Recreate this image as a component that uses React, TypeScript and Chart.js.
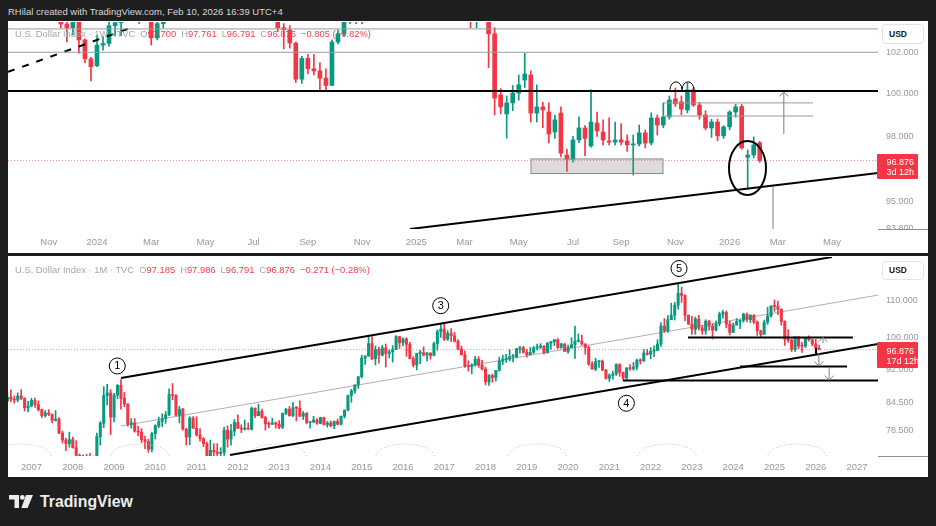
import React, { useEffect, useRef } from 'react';
import { Chart, registerables } from 'chart.js';

Chart.register(...registerables);

const FONT = "'Liberation Sans', Arial, Helvetica, sans-serif";
const UP = '#089981';
const DOWN = '#f23645';
const AXIS_TEXT = '#9598a1';

// ---------- Weekly candles (TVC:DXY 1W). Week index 0 = week of 1 Jan 2024; first bar = -14 ----------
const weekStart = -14;
const wOpen = [
  105.6, 106.2, 106.0, 106.6, 106.2, 105.6, 105.0, 105.9, 103.9, 103.38,
  103.2, 104.0, 102.6, 101.68, 101.35, 102.35, 102.43, 103.3, 103.45, 104.0,
  104.1, 104.3, 103.9, 103.85, 102.7, 103.4, 104.4, 104.5, 104.3, 106.0,
  106.1, 105.9, 105.1, 105.3, 104.5, 104.7, 104.6, 104.9, 105.6, 105.8,
  105.9, 104.9, 104.1, 104.4, 104.3, 103.2, 103.1, 102.45, 100.7, 101.7,
  101.2, 101.1, 100.75, 100.4, 102.5, 102.9, 103.5, 104.3, 104.25, 104.9,
  106.7, 107.5, 105.7, 106.0, 107.0, 107.8, 108.0, 109.0, 109.7, 109.3,
  107.4, 108.4, 108.0, 106.7, 106.6, 107.6, 103.8, 103.7, 104.1, 104.0,
  102.9, 99.95, 99.05, 99.57, 100.04, 100.66, 100.9, 99.09, 99.38, 99.14,
  98.2, 99.09, 97.13, 96.94, 97.83, 98.39, 97.55, 98.62, 98.2, 97.78,
  97.73, 97.83, 97.78, 97.6, 97.64, 98.16, 97.69, 98.86, 98.53, 98.91,
  99.76, 99.62, 99.24, 100.19, 99.47, 99.0, 98.39, 98.67, 98.02, 98.44,
  99.14, 99.4, 97.03, 97.13, 97.7,
];
const wHigh = [
  106.8, 107.35, 106.6, 106.8, 106.9, 107.1, 106.0, 106.0, 104.0, 103.8,
  104.26, 104.2, 102.65, 101.75, 102.84, 102.76, 103.7, 103.8, 104.0, 104.6,
  104.97, 104.4, 104.2, 104.0, 103.5, 104.5, 104.7, 105.0, 106.1, 106.5,
  106.2, 106.5, 105.7, 105.5, 105.1, 105.0, 105.0, 105.9, 105.9, 106.1,
  106.0, 105.2, 104.4, 104.6, 104.8, 103.4, 103.3, 102.5, 101.8, 101.9,
  101.9, 101.5, 101.2, 102.6, 103.1, 103.9, 104.6, 104.6, 105.4, 107.07,
  108.07, 107.7, 106.7, 107.2, 108.5, 108.5, 109.5, 110.0, 110.2, 109.6,
  109.3, 109.9, 108.5, 107.2, 107.6, 107.7, 104.1, 104.1, 104.7, 104.2,
  103.2, 100.25, 99.9, 100.4, 100.9, 101.95, 101.1, 100.43, 99.6, 99.57,
  99.0, 99.38, 97.4, 98.0, 98.91, 98.5, 100.19, 99.14, 98.77, 98.86,
  98.67, 98.6, 98.06, 98.06, 98.53, 98.3, 99.1, 99.0, 99.57, 99.9,
  100.28, 99.9, 100.52, 100.3, 99.6, 99.2, 98.8, 98.8, 98.5, 99.2,
  99.5, 99.5, 97.36, 97.97, 97.761,
];
const wLow = [
  105.6, 105.8, 105.1, 105.9, 105.4, 104.8, 104.9, 103.9, 103.2, 102.5,
  102.85, 101.95, 101.48, 100.62, 101.3, 102.1, 102.3, 102.8, 102.8, 103.9,
  103.9, 103.4, 103.6, 102.35, 102.6, 103.2, 104.1, 103.9, 104.0, 105.5,
  105.4, 104.5, 104.9, 104.1, 104.3, 104.4, 103.9, 104.3, 104.9, 105.3,
  104.8, 104.0, 103.65, 104.1, 103.0, 102.16, 102.2, 100.54, 100.5, 100.95,
  100.9, 100.2, 100.16, 100.4, 102.4, 102.8, 103.4, 103.4, 103.4, 104.9,
  106.1, 105.6, 105.6, 105.9, 106.5, 107.7, 107.9, 108.4, 108.7, 107.2,
  107.0, 107.3, 106.6, 106.1, 106.3, 103.7, 103.2, 103.2, 103.9, 101.26,
  99.0, 99.05, 97.92, 99.2, 99.7, 100.3, 98.67, 98.67, 98.4, 97.69,
  97.9, 97.04, 96.38, 96.8, 97.7, 97.1, 97.5, 98.0, 97.6, 97.6,
  97.6, 97.6, 97.3, 96.21, 97.55, 97.46, 97.6, 98.06, 98.4, 98.8,
  99.4, 99.0, 99.1, 99.4, 98.8, 98.3, 97.95, 97.8, 97.9, 98.3,
  98.9, 97.4, 95.55, 97.0, 96.791,
];
const wClose = [
  106.2, 106.0, 106.6, 106.2, 105.6, 105.0, 105.9, 103.9, 103.38, 103.2,
  104.0, 102.6, 101.68, 101.3, 102.35, 102.43, 103.3, 103.45, 104.0, 104.1,
  104.3, 103.9, 103.85, 102.7, 103.4, 104.4, 104.5, 104.3, 106.0, 106.1,
  105.9, 105.1, 105.3, 104.5, 104.7, 104.6, 104.9, 105.6, 105.8, 105.9,
  104.9, 104.1, 104.4, 104.3, 103.2, 103.1, 102.45, 100.7, 101.7, 101.2,
  101.1, 100.75, 100.4, 102.5, 102.9, 103.5, 104.3, 104.25, 104.9, 106.7,
  107.5, 105.7, 106.0, 107.0, 107.8, 108.0, 109.0, 109.7, 109.3, 107.4,
  108.4, 108.0, 106.7, 106.6, 107.6, 103.8, 103.7, 104.1, 104.0, 102.9,
  99.8, 99.38, 99.57, 100.04, 100.43, 100.95, 99.09, 99.38, 99.24, 98.11,
  98.77, 97.22, 96.94, 97.83, 98.39, 97.9, 98.67, 98.25, 97.83, 97.73,
  97.83, 97.73, 97.6, 97.64, 98.16, 97.69, 98.86, 98.53, 98.91, 99.71,
  99.52, 99.28, 100.19, 99.47, 99.0, 98.39, 98.67, 98.02, 98.44, 99.14,
  99.38, 97.46, 97.13, 97.6, 96.876,
];

// ---------- Monthly candles (TVC:DXY 1M). Month index 0 = Jan 2007; first bar = Jun 2006 (-7) ----------
const monthStart = -7;
const mOpen = [
  84.8, 85.6, 85.2, 85.0, 85.9, 85.3, 83.3,
  83.7, 84.9, 84.0, 82.9, 81.6, 82.2, 81.9, 80.6, 80.9, 78.0, 76.6, 75.9,
  76.7, 75.1, 73.6, 71.8, 73.4, 73.1, 72.4, 73.3, 77.3, 80.0, 86.0, 86.6,
  81.3, 86.1, 88.3, 85.4, 84.1, 79.8, 80.1, 78.4, 78.2, 76.7, 76.3, 74.8,
  77.9, 79.5, 80.4, 81.0, 81.8, 86.2, 86.0, 81.7, 83.0, 78.8, 77.2, 81.1,
  79.0, 77.6, 76.9, 75.9, 73.0, 74.6, 74.3, 74.0, 74.2, 78.6, 76.8, 78.4,
  80.2, 79.0, 78.8, 79.0, 78.8, 83.2, 81.6, 82.5, 81.2, 79.9, 79.8, 80.1,
  79.8, 79.2, 82.1, 83.0, 81.6, 83.3, 83.2, 81.5, 82.1, 80.2, 80.3, 80.7,
  80.0, 81.2, 79.7, 80.1, 79.5, 80.4, 79.8, 81.5, 82.8, 86.0, 87.0, 88.4,
  90.3, 94.8, 95.3, 98.4, 94.6, 96.9, 95.5, 97.3, 95.9, 96.3, 96.9, 100.2,
  98.6, 99.6, 98.2, 94.6, 93.1, 95.9, 96.1, 95.5, 96.0, 95.4, 98.4, 101.5,
  102.2, 99.5, 101.1, 100.4, 99.0, 97.0, 95.6, 92.9, 92.7, 93.1, 94.5, 93.0,
  92.1, 89.1, 90.6, 90.1, 91.8, 94.0, 94.5, 94.55, 95.1, 95.1, 97.1, 97.3,
  96.2, 95.6, 96.2, 97.3, 97.5, 97.8, 96.1, 98.5, 98.9, 99.4, 97.4, 98.3,
  96.4, 97.4, 98.1, 99.0, 99.02, 98.3, 97.4, 93.3, 92.1, 93.9, 94.0, 91.9,
  89.9, 90.6, 90.9, 93.2, 91.3, 90.0, 92.4, 92.2, 92.6, 94.2, 94.1, 96.0,
  95.7, 96.5, 96.7, 98.3, 103.0, 101.7, 104.7, 105.9, 108.7, 112.1, 111.5, 105.9,
  103.5, 102.1, 104.9, 102.5, 101.7, 104.3, 102.9, 101.9, 103.6, 106.2, 106.7, 103.5,
  101.3, 103.3, 104.2, 104.5, 106.2, 104.7, 105.9, 104.1, 101.7, 100.8, 104.0, 105.7,
  108.5, 108.4, 107.6, 104.2, 99.5, 99.3, 96.9, 100.0, 97.8, 97.75, 99.8, 99.4,
  98.3, 97.185,
];
const mHigh = [
  86.8, 87.3, 85.9, 86.6, 87.3, 85.5, 84.7,
  85.4, 85.4, 84.8, 83.0, 82.7, 82.9, 82.0, 82.7, 81.2, 78.4, 77.0, 78.2,
  77.2, 76.5, 73.9, 73.7, 73.8, 74.0, 73.5, 78.0, 80.4, 88.0, 88.5, 87.3,
  86.5, 88.5, 89.6, 86.7, 84.2, 81.0, 81.0, 79.4, 78.9, 77.4, 76.8, 78.2,
  79.7, 81.3, 82.0, 82.5, 87.5, 88.7, 86.2, 83.6, 83.2, 79.0, 81.4, 81.4,
  81.4, 78.9, 77.1, 76.2, 76.6, 75.9, 75.9, 75.1, 79.2, 79.5, 79.8, 80.8,
  81.8, 79.7, 80.7, 80.1, 83.5, 83.3, 84.1, 83.0, 81.5, 80.3, 81.1, 80.3,
  80.6, 82.2, 83.2, 83.6, 84.5, 83.6, 84.8, 82.5, 82.3, 80.4, 81.5, 81.0,
  81.3, 81.3, 80.4, 80.5, 80.5, 80.9, 81.5, 82.8, 86.1, 87.4, 88.4, 90.3,
  95.5, 95.3, 100.4, 100.2, 97.8, 97.5, 98.0, 98.3, 96.8, 97.9, 100.5, 100.3,
  99.9, 99.9, 98.7, 95.1, 95.9, 96.7, 97.6, 96.2, 96.1, 98.8, 102.0, 103.7,
  103.8, 101.8, 102.3, 101.3, 99.4, 97.8, 96.5, 94.1, 93.4, 95.2, 95.1, 94.2,
  92.6, 90.8, 90.9, 91.8, 95.0, 95.5, 95.7, 96.9, 95.7, 97.2, 97.7, 97.7,
  96.9, 97.4, 97.7, 98.3, 98.4, 97.8, 98.7, 99.0, 99.4, 99.7, 98.5, 98.4,
  98.0, 99.9, 103.0, 100.9, 100.6, 98.4, 97.8, 93.9, 94.7, 94.1, 94.3, 92.0,
  91.0, 91.6, 93.4, 93.4, 91.4, 92.4, 93.2, 93.7, 94.5, 94.6, 96.9, 96.9,
  97.4, 97.8, 99.4, 103.9, 105.0, 105.8, 109.3, 109.5, 114.8, 113.9, 111.7, 106.0,
  105.6, 105.4, 105.9, 103.1, 104.7, 104.5, 103.6, 104.4, 106.8, 107.3, 107.1, 104.3,
  103.8, 105.0, 104.7, 106.5, 106.5, 106.1, 106.1, 104.4, 101.9, 104.6, 108.1, 108.5,
  110.2, 109.9, 107.7, 104.4, 102.0, 99.6, 100.3, 100.3, 98.7, 99.9, 100.4, 99.5,
  99.5, 97.986,
];
const mLow = [
  84.5, 84.6, 84.3, 84.6, 85.1, 82.6, 82.4,
  83.5, 83.4, 82.6, 81.2, 81.3, 81.6, 80.1, 80.5, 77.9, 76.0, 74.5, 75.2,
  75.0, 73.6, 70.7, 71.3, 71.8, 71.9, 71.3, 73.2, 75.6, 79.1, 83.9, 77.7,
  80.3, 85.3, 83.0, 83.5, 79.4, 79.0, 78.2, 77.5, 76.1, 74.9, 74.2, 74.3,
  76.8, 79.1, 79.3, 80.0, 81.6, 85.0, 81.5, 80.1, 78.6, 75.6, 75.7, 78.9,
  77.4, 76.4, 75.3, 72.9, 72.7, 73.5, 73.4, 73.4, 73.6, 75.2, 75.6, 77.5,
  78.9, 78.1, 78.6, 78.7, 78.6, 81.2, 81.6, 81.1, 78.6, 79.1, 79.8, 79.0,
  78.9, 78.9, 81.8, 81.5, 81.4, 80.5, 81.4, 80.8, 79.9, 79.0, 80.1, 79.8,
  79.9, 79.7, 79.2, 79.3, 78.9, 79.7, 79.7, 81.1, 82.6, 84.5, 86.5, 87.6,
  90.0, 93.2, 95.2, 94.4, 93.1, 93.5, 95.3, 92.6, 94.8, 93.8, 96.9, 97.2,
  97.8, 95.2, 94.6, 92.6, 91.9, 93.4, 95.3, 94.1, 94.5, 95.3, 96.7, 100.0,
  99.2, 99.2, 98.9, 98.8, 96.8, 95.5, 92.5, 91.6, 91.0, 92.8, 92.5, 91.9,
  88.4, 88.3, 89.0, 89.3, 91.6, 93.2, 93.7, 94.1, 93.8, 94.8, 96.0, 96.0,
  95.0, 95.6, 95.9, 96.8, 97.1, 95.8, 96.0, 97.0, 97.9, 97.1, 97.2, 96.4,
  96.0, 97.3, 94.7, 98.8, 98.0, 95.7, 93.0, 92.1, 91.7, 92.5, 91.7, 89.7,
  89.2, 89.7, 90.6, 90.4, 89.5, 89.7, 91.8, 91.8, 91.9, 93.3, 93.9, 95.5,
  94.6, 95.1, 96.6, 97.7, 101.3, 101.3, 104.7, 104.6, 107.6, 109.5, 104.4, 103.4,
  100.8, 100.8, 101.9, 100.8, 100.8, 101.9, 99.6, 101.7, 103.0, 105.1, 102.5, 100.6,
  101.3, 103.2, 102.3, 104.0, 104.1, 103.9, 103.6, 100.5, 100.2, 100.8, 103.4, 105.4,
  107.0, 106.1, 103.2, 97.9, 98.7, 96.4, 96.4, 97.1, 96.2, 97.4, 99.0, 97.8,
  95.55, 96.791,
];
const mClose = [
  85.6, 85.2, 85.0, 85.9, 85.3, 83.3, 83.7,
  84.9, 84.0, 82.9, 81.6, 82.2, 81.9, 80.6, 80.9, 78.0, 76.6, 75.9, 76.7,
  75.1, 73.6, 71.8, 73.4, 73.1, 72.4, 73.3, 77.3, 80.0, 86.0, 86.6, 81.3,
  86.1, 88.3, 85.4, 84.1, 79.8, 80.1, 78.4, 78.2, 76.7, 76.3, 74.8, 77.9,
  79.5, 80.4, 81.0, 81.8, 86.2, 86.0, 81.7, 83.0, 78.8, 77.2, 81.1, 79.0,
  77.6, 76.9, 75.9, 73.0, 74.6, 74.3, 74.0, 74.2, 78.6, 76.8, 78.4, 80.2,
  79.0, 78.8, 79.0, 78.8, 83.2, 81.6, 82.5, 81.2, 79.9, 79.8, 80.1, 79.8,
  79.2, 82.1, 83.0, 81.6, 83.3, 83.2, 81.5, 82.1, 80.2, 80.3, 80.7, 80.0,
  81.2, 79.7, 80.1, 79.5, 80.4, 79.8, 81.5, 82.8, 86.0, 87.0, 88.4, 90.3,
  94.8, 95.3, 98.4, 94.6, 96.9, 95.5, 97.3, 95.9, 96.3, 96.9, 100.2, 98.6,
  99.6, 98.2, 94.6, 93.1, 95.9, 96.1, 95.5, 96.0, 95.4, 98.4, 101.5, 102.2,
  99.5, 101.1, 100.4, 99.0, 97.0, 95.6, 92.9, 92.7, 93.1, 94.5, 93.0, 92.1,
  89.1, 90.6, 90.1, 91.8, 94.0, 94.5, 94.55, 95.1, 95.1, 97.1, 97.3, 96.2,
  95.6, 96.2, 97.3, 97.5, 97.8, 96.1, 98.5, 98.9, 99.4, 97.4, 98.3, 96.4,
  97.4, 98.1, 99.0, 99.02, 98.3, 97.4, 93.3, 92.1, 93.9, 94.0, 91.9, 89.9,
  90.6, 90.9, 93.2, 91.3, 90.0, 92.4, 92.2, 92.6, 94.2, 94.1, 96.0, 95.7,
  96.5, 96.7, 98.3, 103.0, 101.7, 104.7, 105.9, 108.7, 112.1, 111.5, 105.9, 103.5,
  102.1, 104.9, 102.5, 101.7, 104.3, 102.9, 101.9, 103.6, 106.2, 106.7, 103.5, 101.3,
  103.3, 104.2, 104.5, 106.2, 104.7, 105.9, 104.1, 101.7, 100.8, 104.0, 105.7, 108.5,
  108.4, 107.6, 104.2, 99.5, 99.3, 96.9, 100.0, 97.8, 97.75, 99.8, 99.4, 98.3,
  97.185, 96.876,
];

// ---------- Axis ticks ----------
const weekTickPos = [-8, 0, 9, 18, 26, 35, 44, 53, 61, 70, 79, 87, 96, 105, 113, 122];
const weekTickLabels = ['Nov', '2024', 'Mar', 'May', 'Jul', 'Sep', 'Nov', '2025', 'Mar', 'May', 'Jul', 'Sep', 'Nov', '2026', 'Mar', 'May'];
const yearTickPos = [0, 12, 24, 36, 48, 60, 72, 84, 96, 108, 120, 132, 144, 156, 168, 180, 192, 204, 216, 228, 240];
const yearTickLabels = ['2007', '2008', '2009', '2010', '2011', '2012', '2013', '2014', '2015', '2016', '2017', '2018', '2019', '2020', '2021', '2022', '2023', '2024', '2025', '2026', '2027'];
const topPriceTicks = [102, 100, 98, 95, 93.8];
const bottomPriceTicks = [110, 100, 92, 84.5, 78.5];
const lastPrice = 96.876;

// visible ranges
const topXRange = [-14.77, 129.63];
const topYRange = [93.77, 103.48];
const botXRange = [-6.83, 246.1];
const botYRange = [73.5, 123.2];

// ---------- Drawings (data coordinates) ----------
const topDashed = [[-14.77, 101.05], [5.5, 103.18]];
const topGrayLevels = [103.14, 102.0];
const topKeyLevel = 100.14;
const topTargetLevels = [99.57, 98.95];
const topTargetSpan = [93.94, 118.84];
const topZone = { x1: 72.03, x2: 93.94, y1: 96.95, y2: 96.28 };
const topTrend = [[51.95, 93.77], [129.63, 96.3]];
const topArrow = { x: 114.0, from: 98.11, to: 100.09 };
const topTick = { x: 112.2, from: 95.66, to: 93.5 };
const topArcs = [[96.1, 100.19], [98.1, 100.19]];
const topEllipse = { x: 107.97, y: 96.53 };

const botUpper = [[26.02, 90.0], [232.7, 123.2]];
const botLower = [[57.71, 73.7], [246.1, 98.3]];
const botMiddle = [[26.02, 79.45], [246.1, 111.6]];
const botLevels = [
  { y: 100.0, x1: 190.87, x2: 238.8 },
  { y: 92.72, x1: 205.99, x2: 237.1 },
  { y: 89.42, x1: 171.97, x2: 246.1 },
];
const botTick = { x: 228.1, from: 97.29, to: 95.5 };
const botArrows = [
  { x: 230.1, from: 98.56, to: 100.0 },
  { x: 228.9, from: 96.0, to: 92.85 },
  { x: 231.9, from: 92.6, to: 89.5 },
];
const waveLabels = [
  { x: 24.94, y: 92.85, text: '1' },
  { x: 118.97, y: 108.57, text: '3' },
  { x: 172.95, y: 84.28, text: '4' },
  { x: 188.25, y: 119.58, text: '5' },
];
const cycleCenters = [-2.76, 31.54, 71.37, 108.59, 146.97, 184.76, 222.55];

function buildTopShapes() {
  const s: any[] = [];
  s.push({ kind: 'line', pts: topDashed, color: '#000', width: 2, dash: [7, 8] });
  topGrayLevels.forEach((v) => s.push({ kind: 'line', pts: [[topXRange[0], v], [topXRange[1], v]], color: '#9a9a9a', width: 1 }));
  s.push({ kind: 'line', pts: [[topXRange[0], topKeyLevel], [topXRange[1], topKeyLevel]], color: '#000', width: 2 });
  topTargetLevels.forEach((v) => s.push({ kind: 'line', pts: [[topTargetSpan[0], v], [topTargetSpan[1], v]], color: '#9a9a9a', width: 1 }));
  s.push({ kind: 'rect', ...topZone, fill: 'rgba(128,128,128,0.28)', color: '#8a8a8a', width: 1 });
  s.push({ kind: 'line', pts: topTrend, color: '#000', width: 2 });
  s.push({ kind: 'arrow', ...topArrow, color: '#7a7a7a', width: 1 });
  s.push({ kind: 'line', pts: [[topTick.x, topTick.from], [topTick.x, topTick.to]], color: '#7a7a7a', width: 1 });
  topArcs.forEach(([x, y]) => s.push({ kind: 'arc', x, y, rx: 6, ry: 8, color: '#000', width: 1 }));
  s.push({ kind: 'ellipse', x: topEllipse.x, y: topEllipse.y, rx: 18.5, ry: 27, color: '#000', width: 2 });
  return s;
}

function buildBottomShapes() {
  const s: any[] = [];
  cycleCenters.forEach((x) => s.push({ kind: 'hump', x, rx: 29, ry: 12, color: '#b8b8b8', width: 1, dash: [1, 2] }));
  s.push({ kind: 'line', pts: botMiddle, color: 'rgba(110,110,110,0.55)', width: 1 });
  s.push({ kind: 'line', pts: botUpper, color: '#000', width: 2 });
  s.push({ kind: 'line', pts: botLower, color: '#000', width: 2 });
  botLevels.forEach((l) => s.push({ kind: 'line', pts: [[l.x1, l.y], [l.x2, l.y]], color: '#000', width: 2 }));
  s.push({ kind: 'line', pts: [[botTick.x, botTick.from], [botTick.x, botTick.to]], color: '#000', width: 2 });
  botArrows.forEach((a) => s.push({ kind: 'arrow', ...a, color: '#808080', width: 1 }));
  waveLabels.forEach((w) => s.push({ kind: 'label', ...w, color: '#000', width: 1 }));
  return s;
}

function drawingsPlugin(shapes: any[]) {
  return {
    id: 'drawings',
    afterDatasetsDraw(chart: any) {
      const { ctx, chartArea: a } = chart;
      const sx = chart.scales.x;
      const sy = chart.scales.y;
      const X = (v: number) => sx.getPixelForValue(v);
      const Y = (v: number) => sy.getPixelForValue(v);
      ctx.save();
      ctx.beginPath();
      ctx.rect(a.left, a.top, a.right - a.left, a.bottom - a.top);
      ctx.clip();
      for (const s of shapes) {
        ctx.save();
        ctx.strokeStyle = s.color || '#000';
        ctx.lineWidth = s.width || 1;
        ctx.setLineDash(s.dash || []);
        if (s.kind === 'line') {
          ctx.beginPath();
          s.pts.forEach(([x, y]: number[], i: number) => (i ? ctx.lineTo(X(x), Y(y)) : ctx.moveTo(X(x), Y(y))));
          ctx.stroke();
        } else if (s.kind === 'rect') {
          const x1 = X(s.x1), x2 = X(s.x2), y1 = Y(s.y1), y2 = Y(s.y2);
          ctx.fillStyle = s.fill;
          ctx.fillRect(x1, y1, x2 - x1, y2 - y1);
          ctx.strokeRect(x1, y1, x2 - x1, y2 - y1);
        } else if (s.kind === 'arrow') {
          const x = X(s.x), y1 = Y(s.from), y2 = Y(s.to);
          const dir = y2 < y1 ? 1 : -1;
          ctx.beginPath();
          ctx.moveTo(x, y1);
          ctx.lineTo(x, y2);
          ctx.moveTo(x - 4.5, y2 + 4.5 * dir);
          ctx.lineTo(x, y2);
          ctx.lineTo(x + 4.5, y2 + 4.5 * dir);
          ctx.stroke();
        } else if (s.kind === 'ellipse') {
          ctx.beginPath();
          ctx.ellipse(X(s.x), Y(s.y), s.rx, s.ry, 0, 0, Math.PI * 2);
          ctx.stroke();
        } else if (s.kind === 'arc') {
          ctx.beginPath();
          ctx.ellipse(X(s.x), Y(s.y), s.rx, s.ry, 0, Math.PI, Math.PI * 2);
          ctx.stroke();
        } else if (s.kind === 'hump') {
          ctx.beginPath();
          ctx.ellipse(X(s.x), a.bottom, s.rx, s.ry, 0, Math.PI, Math.PI * 2);
          ctx.stroke();
        } else if (s.kind === 'label') {
          const x = X(s.x), y = Y(s.y);
          ctx.fillStyle = '#fff';
          ctx.beginPath();
          ctx.arc(x, y, 8, 0, Math.PI * 2);
          ctx.fill();
          ctx.stroke();
          ctx.fillStyle = '#000';
          ctx.font = `11px ${FONT}`;
          ctx.textAlign = 'center';
          ctx.textBaseline = 'middle';
          ctx.fillText(s.text, x, y + 0.5);
        }
        ctx.restore();
      }
      ctx.restore();
    },
  };
}

function createCandleChart(canvas: HTMLCanvasElement, p: any) {
  const xs = p.open.map((_: number, i: number) => p.start + i);
  const colors = p.open.map((o: number, i: number) => (p.close[i] >= o ? UP : DOWN));
  return new Chart(canvas, {
    type: 'bar',
    data: {
      datasets: [
        {
          type: 'line',
          data: [{ x: p.xRange[0], y: lastPrice }, { x: p.xRange[1], y: lastPrice }],
          borderColor: 'rgba(242,54,69,0.55)',
          borderWidth: 1,
          borderDash: [1, 2],
          pointRadius: 0,
          clip: 0,
          order: 3,
        },
        {
          type: 'bar',
          data: xs.map((x: number, i: number) => ({ x, y: [p.low[i], p.high[i]] })),
          backgroundColor: colors,
          barThickness: 1,
          grouped: false,
          clip: 0,
          order: 2,
        },
        {
          type: 'bar',
          data: xs.map((x: number, i: number) => ({ x, y: [p.open[i], p.close[i]] })),
          backgroundColor: colors,
          barThickness: p.bodyW,
          minBarLength: 1,
          grouped: false,
          clip: 0,
          order: 1,
        },
      ],
    } as any,
    options: {
      animation: false,
      responsive: false,
      maintainAspectRatio: false,
      events: [],
      layout: { padding: 0, autoPadding: false },
      plugins: { legend: { display: false }, tooltip: { enabled: false } },
      scales: {
        x: {
          type: 'linear',
          min: p.xRange[0],
          max: p.xRange[1],
          offset: false,
          grid: { display: false, drawTicks: false },
          border: { display: false },
          ticks: {
            autoSkip: false,
            maxRotation: 0,
            minRotation: 0,
            padding: p.xPad,
            color: AXIS_TEXT,
            font: { family: FONT, size: 9.5 },
            callback: (_v: any, i: number) => p.tickLabels[i],
          },
          afterBuildTicks: (s: any) => {
            s.ticks = p.tickPos.map((v: number) => ({ value: v }));
          },
          afterFit: (s: any) => {
            s.height = p.xAxisH;
            s.paddingLeft = 0;
            s.paddingRight = 0;
          },
        },
        y: {
          type: 'logarithmic',
          position: 'right',
          min: p.yRange[0],
          max: p.yRange[1],
          bounds: 'data',
          beginAtZero: false,
          grid: { display: false, drawTicks: false },
          border: { display: false },
          ticks: {
            padding: 8,
            color: AXIS_TEXT,
            font: { family: FONT, size: 9 },
            callback: (v: any) => Number(v).toFixed(3),
          },
          afterBuildTicks: (s: any) => {
            s.ticks = p.priceTicks.map((v: number) => ({ value: v }));
          },
          afterFit: (s: any) => {
            s.width = 50;
            s.paddingTop = 0;
            s.paddingBottom = 0;
          },
        },
      },
    } as any,
    plugins: [drawingsPlugin(p.shapes)],
  });
}

function CandlePanel(props: any) {
  const ref = useRef<HTMLCanvasElement | null>(null);
  useEffect(() => {
    const chart = createCandleChart(ref.current as HTMLCanvasElement, props.cfg);
    return () => chart.destroy();
  }, []);
  return (
    <canvas
      ref={ref}
      width={props.w}
      height={props.h}
      style={{ position: 'absolute', left: props.left, top: props.top, width: props.w, height: props.h }}
    />
  );
}

const topCfg = {
  start: weekStart, open: wOpen, high: wHigh, low: wLow, close: wClose, bodyW: 4,
  xRange: topXRange, yRange: topYRange, tickPos: weekTickPos, tickLabels: weekTickLabels,
  priceTicks: topPriceTicks, xAxisH: 24, xPad: 8, shapes: buildTopShapes(),
};
const botCfg = {
  start: monthStart, open: mOpen, high: mHigh, low: mLow, close: mClose, bodyW: 2.4,
  xRange: botXRange, yRange: botYRange, tickPos: yearTickPos, tickLabels: yearTickLabels,
  priceTicks: bottomPriceTicks, xAxisH: 21, xPad: 6, shapes: buildBottomShapes(),
};

function Legend(props: any) {
  const gray = '#a3a6af';
  const red = '#f0424f';
  const items = [['O', props.o], ['H', props.h], ['L', props.l], ['C', props.c]];
  return (
    <div style={{ position: 'absolute', left: 15, top: props.top, fontSize: 9.4, lineHeight: '14px', whiteSpace: 'nowrap', color: gray }}>
      <span>{props.title}</span>
      {items.map(([k, v]) => (
        <span key={k} style={{ marginLeft: 5 }}>
          {k}
          <span style={{ color: red }}>{v}</span>
        </span>
      ))}
      <span style={{ marginLeft: 5, color: red }}>{props.chg}</span>
    </div>
  );
}

function PriceTag(props: any) {
  return (
    <div
      style={{
        position: 'absolute', left: 877, top: props.top, width: 41, height: props.h, background: '#f23645',
        color: '#fff', fontSize: 9, lineHeight: props.lh, paddingTop: props.pt, boxSizing: 'border-box',
        paddingLeft: 9.5, whiteSpace: 'nowrap', borderRadius: 1,
      }}
    >
      <div>96.876</div>
      <div>{props.timer}</div>
    </div>
  );
}

function UsdBox(props: any) {
  return (
    <div
      style={{
        position: 'absolute', left: 882, top: props.top, width: 42, height: props.h, boxSizing: 'border-box',
        border: '1px solid #e0e3eb', borderRadius: 4, background: '#fff', color: '#131722', fontSize: 8.5,
        fontWeight: 700, lineHeight: `${props.h - 2}px`, paddingLeft: 6,
      }}
    >
      USD
    </div>
  );
}

export default function App() {
  return (
    <div style={{ position: 'absolute', left: 0, top: 0, width: 936, height: 526, background: '#1e1e1e', overflow: 'hidden', fontFamily: FONT }}>
      <div style={{ position: 'absolute', left: 8, top: 5, fontSize: 9.5, lineHeight: '14px', color: '#d8d8d8', whiteSpace: 'nowrap' }}>
        RHilal created with TradingView.com, Feb 10, 2026 16:39 UTC+4
      </div>
      <div style={{ position: 'absolute', left: 8, top: 21, width: 920, height: 232, background: '#fff' }} />
      <div style={{ position: 'absolute', left: 8, top: 256, width: 920, height: 221, background: '#fff' }} />

      <CandlePanel cfg={topCfg} left={8} top={22} w={920} h={231} />
      <CandlePanel cfg={botCfg} left={8} top={257} w={920} h={220} />

      <div style={{ position: 'absolute', left: 878, top: 230, width: 50, height: 23, background: '#fff' }} />
      <div style={{ position: 'absolute', left: 878, top: 229, width: 50, height: 1, background: '#8c8f96' }} />
      <div style={{ position: 'absolute', left: 878, top: 456, width: 50, height: 1, background: '#8c8f96' }} />

      <Legend top={26.5} title="U.S. Dollar Index · 1W · TVC" o="97.700" h="97.761" l="96.791" c="96.876" chg="−0.805 (−0.82%)" />
      <Legend top={263} title="U.S. Dollar Index · 1M · TVC" o="97.185" h="97.986" l="96.791" c="96.876" chg="−0.271 (−0.28%)" />

      <UsdBox top={24} h={20} />
      <UsdBox top={261} h={19} />
      <PriceTag top={154} h={25} lh="10px" pt={3} timer="3d 12h" />
      <PriceTag top={342} h={26} lh="10.5px" pt={3.5} timer="17d 12h" />

      <svg style={{ position: 'absolute', left: 9, top: 495 }} width={24} height={13} viewBox="0 0 24 13">
        <path d="M0 0 H10 V13 H5.5 V4.5 H0 Z" fill="#ececec" />
        <circle cx="13.3" cy="2.4" r="2.4" fill="#ececec" />
        <path d="M17 0 H24 L18.6 13 H12.4 Z" fill="#ececec" />
      </svg>
      <div style={{ position: 'absolute', left: 40, top: 492, fontSize: 15.8, fontWeight: 700, lineHeight: '19px', color: '#ececec', whiteSpace: 'nowrap' }}>
        TradingView
      </div>
    </div>
  );
}
